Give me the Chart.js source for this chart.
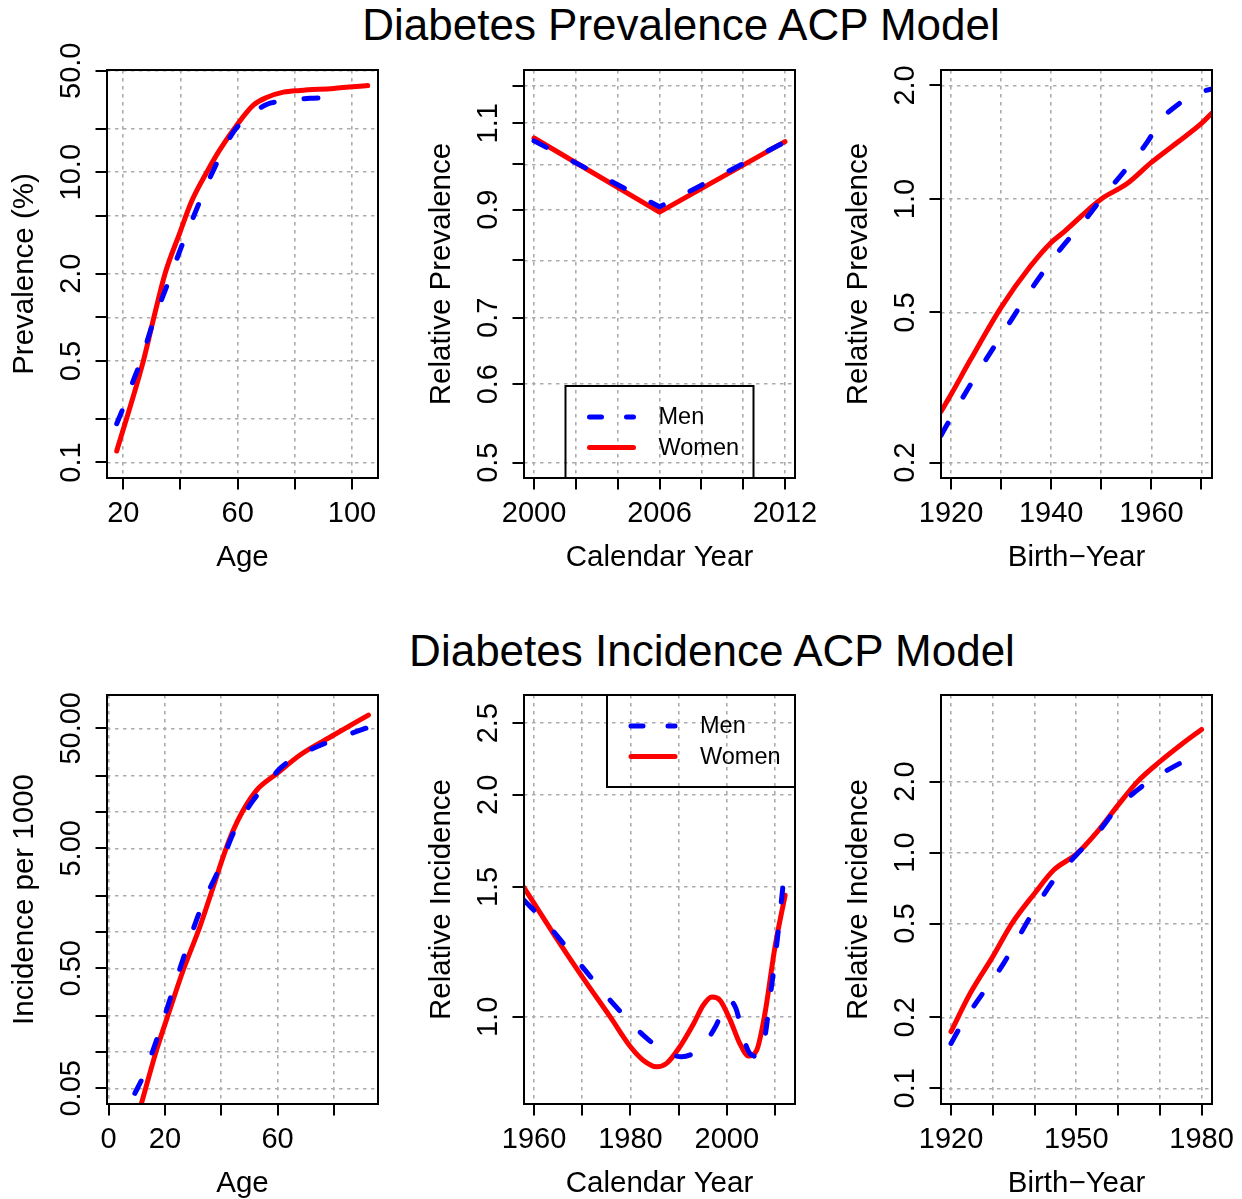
<!DOCTYPE html>
<html>
<head>
<meta charset="utf-8">
<script src="https://cdn.jsdelivr.net/npm/chart.js@4.4.1/dist/chart.umd.min.js"></script>
<style>
  body { margin: 0; background: #fff; }
  #page { position: relative; width: 1242px; height: 1199px; overflow: hidden; background: #fff; }
  canvas { position: absolute; }
  .main-title {
    position: absolute;
    font: 44px "Liberation Sans", Arial, sans-serif;
    line-height: 44px;
    white-space: nowrap;
    transform: translateX(-50%);
    color: #000;
  }
</style>
</head>
<body>
<div id="page">
  <div class="main-title" style="left:681px; top:3px">Diabetes Prevalence ACP Model</div>
  <div class="main-title" style="left:712px; top:629px">Diabetes Incidence ACP Model</div>
  <canvas id="prevAge" width="414" height="600" style="left:0px; top:0px"></canvas>
  <canvas id="prevYear" width="414" height="600" style="left:414px; top:0px"></canvas>
  <canvas id="prevCohort" width="414" height="600" style="left:828px; top:0px"></canvas>
  <canvas id="incAge" width="414" height="599" style="left:0px; top:600px"></canvas>
  <canvas id="incYear" width="414" height="599" style="left:414px; top:600px"></canvas>
  <canvas id="incCohort" width="414" height="599" style="left:828px; top:600px"></canvas>
</div>
<script>
const FONT = '"Liberation Sans", Arial, Helvetica, sans-serif';
const MEN_COLOR = '#0000ff';
const WOMEN_COLOR = '#ff0000';
const GRID_COLOR = '#ababab';

// ---- prevalence: age effect ----
const prevAgeMenX = [17.7, 20.2, 23.5, 25.8, 30.5, 35.7, 40.4, 45.7, 51.5, 58.5, 62.6, 70.1, 76.6, 85.3, 92.3];
const prevAgeMenY = [0.185, 0.244, 0.367, 0.48, 0.93, 1.74, 3.09, 5.6, 10.3, 18.9, 23, 29.3, 31, 32.3, 32.7];
const prevAgeWomenX = [17.7, 27, 30.7, 34.6, 39.8, 43.9, 49.2, 53.8, 60, 65.5, 70.1, 76, 81.8, 93.5, 105.5];
const prevAgeWomenY = [0.12, 0.5, 1.0, 2.0, 3.84, 6.3, 10, 14.3, 21.5, 29, 32.7, 35.6, 36.6, 37.8, 39.5];
const prevAgeXTicks = [20, 40, 60, 80, 100];
const prevAgeXLabels = ['20', '60', '100'];
const prevAgeYTicks = [0.1, 0.2, 0.5, 1, 2, 5, 10, 20, 50];
const prevAgeYLabels = ['0.1', '0.5', '2.0', '10.0', '50.0'];

// ---- prevalence: period effect ----
const prevYearX = [2000, 2006, 2012];
const prevYearMen = [1.056, 0.906, 1.053];
const prevYearWomen = [1.063, 0.895, 1.054];
const prevYearXTicks = [2000, 2002, 2004, 2006, 2008, 2010, 2012];
const prevYearXLabels = ['2000', '2006', '2012'];
const prevYearYTicks = [0.5, 0.6, 0.7, 0.8, 0.9, 1.0, 1.1, 1.2];
const prevYearYLabels = ['0.5', '0.6', '0.7', '0.9', '1.1'];

// ---- prevalence: cohort effect ----
const prevCohortMenX = [1918, 1920.9, 1925.9, 1930.5, 1936.5, 1941.8, 1946.5, 1950, 1953.8, 1957.1, 1959.1, 1962.1, 1964.8, 1969.1, 1972.1];
const prevCohortMenY = [0.236, 0.276, 0.356, 0.444, 0.589, 0.735, 0.871, 1.0, 1.15, 1.30, 1.41, 1.63, 1.76, 1.905, 1.96];
const prevCohortWomenX = [1918, 1920, 1923.9, 1930, 1935.8, 1940, 1942.5, 1950, 1955.1, 1960, 1965.1, 1970, 1972.1];
const prevCohortWomenY = [0.273, 0.303, 0.375, 0.516, 0.662, 0.767, 0.817, 1.0, 1.097, 1.25, 1.41, 1.586, 1.69];
const prevCohortXTicks = [1920, 1930, 1940, 1950, 1960, 1970];
const prevCohortXLabels = ['1920', '1940', '1960'];
const prevCohortYTicks = [0.2, 0.5, 1, 2];
const prevCohortYLabels = ['0.2', '0.5', '1.0', '2.0'];

// ---- incidence: age effect ----
const incAgeMenX = [9.3, 12.2, 17, 22.3, 27.1, 33, 39.5, 44.3, 51.4, 56.1, 60.9, 68, 79.9, 92.3];
const incAgeMenY = [0.0454, 0.0625, 0.126, 0.30, 0.667, 1.63, 3.5, 6.7, 12.6, 16.9, 23.2, 30, 40, 51];
const incAgeWomenX = [11, 17, 21.7, 26.5, 32.4, 37.2, 40.7, 44.3, 47.8, 52.6, 59.9, 68, 80, 92.3];
const incAgeWomenY = [0.033, 0.104, 0.225, 0.484, 1.11, 2.4, 4.27, 7.1, 10.4, 15.3, 21.1, 30, 44, 64.5];
const incAgeXTicks = [0, 20, 40, 60, 80];
const incAgeXLabels = ['0', '20', '60'];
const incAgeYTicks = [0.05, 0.1, 0.2, 0.5, 1, 2, 5, 10, 20, 50];
const incAgeYLabels = ['0.05', '0.50', '5.00', '50.00'];

// ---- incidence: period effect ----
const incYearMenX = [1957.9, 1962.6, 1968.9, 1975.8, 1982.7, 1986.8, 1990.6, 1995.1, 1997.6, 2000.5, 2001.9, 2003.4, 2004.8, 2006.7, 2007.8, 2009, 2010.3, 2012.1];
const incYearMenY = [1.439, 1.338, 1.193, 1.053, 0.944, 0.901, 0.883, 0.915, 0.969, 1.053, 1.026, 0.94, 0.892, 0.883, 0.93, 1.064, 1.244, 1.605];
const incYearWomenX = [1957.9, 1964, 1970, 1975.8, 1980, 1982.7, 1985.4, 1987.5, 1990, 1993.1, 1995.1, 1996.9, 1998.6, 2000.7, 2002.7, 2004.5, 2006.2, 2007.9, 2010, 2012.1];
const incYearWomenY = [1.497, 1.297, 1.133, 1.0, 0.911, 0.873, 0.856, 0.865, 0.906, 0.979, 1.037, 1.064, 1.053, 0.99, 0.92, 0.885, 0.901, 1.01, 1.244, 1.462];
const incYearXTicks = [1960, 1970, 1980, 1990, 2000, 2010];
const incYearXLabels = ['1960', '1980', '2000'];
const incYearYTicks = [1.0, 1.5, 2.0, 2.5];
const incYearYLabels = ['1.0', '1.5', '2.0', '2.5'];

// ---- incidence: cohort effect ----
const incCohortMenX = [1920, 1922.2, 1926.2, 1932.6, 1939, 1944.6, 1950, 1955, 1960, 1964.6, 1967.8, 1972.6, 1977];
const incCohortMenY = [0.155, 0.182, 0.233, 0.339, 0.535, 0.764, 0.976, 1.205, 1.563, 1.84, 2.03, 2.275, 2.506];
const incCohortWomenX = [1920, 1924.6, 1930, 1934.6, 1940, 1944.6, 1950, 1955, 1960, 1964.6, 1970, 1975, 1980];
const incCohortWomenY = [0.174, 0.253, 0.362, 0.501, 0.671, 0.843, 0.985, 1.225, 1.589, 1.995, 2.43, 2.86, 3.33];
const incCohortXTicks = [1920, 1930, 1940, 1950, 1960, 1970, 1980];
const incCohortXLabels = ['1920', '1950', '1980'];
const incCohortYTicks = [0.1, 0.2, 0.5, 1, 2];
const incCohortYLabels = ['0.1', '0.2', '0.5', '1.0', '2.0'];

// R 风格坐标轴、外框和图例
function rAxesPlugin(p) {
  return {
    id: 'rAxes',
    afterDraw(chart) {
      const { ctx, chartArea: a, scales: { x, y } } = chart;
      ctx.save();
      ctx.strokeStyle = '#000';
      ctx.fillStyle = '#000';
      ctx.lineWidth = 2;
      ctx.setLineDash([]);
      ctx.strokeRect(a.left, a.top, a.right - a.left, a.bottom - a.top);

      // x ticks
      ctx.beginPath();
      p.xTicks.forEach(v => {
        const px = Math.round(x.getPixelForValue(v));
        ctx.moveTo(px, a.bottom);
        ctx.lineTo(px, a.bottom + 11.5);
      });
      // y ticks
      p.yTicks.forEach(v => {
        const py = Math.round(y.getPixelForValue(v));
        ctx.moveTo(a.left, py);
        ctx.lineTo(a.left - 11.5, py);
      });
      ctx.stroke();

      ctx.font = '29px ' + FONT;
      ctx.textAlign = 'center';
      ctx.textBaseline = 'alphabetic';
      p.xLabels.forEach(t => {
        ctx.fillText(t, x.getPixelForValue(parseFloat(t)), a.bottom + 43.5);
      });
      ctx.font = '29.5px ' + FONT;
      ctx.fillText(p.xTitle, (a.left + a.right) / 2, a.bottom + 88);

      ctx.font = '29px ' + FONT;
      p.yLabels.forEach(t => {
        ctx.save();
        ctx.translate(a.left - 27, y.getPixelForValue(parseFloat(t)));
        ctx.rotate(-Math.PI / 2);
        ctx.fillText(t, 0, 0);
        ctx.restore();
      });
      ctx.save();
      ctx.font = '29.5px ' + FONT;
      ctx.translate(a.left - 74, (a.top + a.bottom) / 2);
      ctx.rotate(-Math.PI / 2);
      ctx.fillText(p.yTitle, 0, 0);
      ctx.restore();

      if (p.legend) {
        const w = 188, h = 92;
        const lx = p.legend === 'bottom' ? (a.left + a.right) / 2 - w / 2 : a.right - w;
        const ly = p.legend === 'bottom' ? a.bottom - h : a.top;
        ctx.lineWidth = 2;
        ctx.strokeRect(lx, ly, w, h);
        const rows = [
          { label: 'Men', color: MEN_COLOR, dash: [12, 25], dy: 31 },
          { label: 'Women', color: WOMEN_COLOR, dash: [], dy: 61.5 }
        ];
        ctx.font = '23.5px ' + FONT;
        ctx.textAlign = 'left';
        ctx.textBaseline = 'middle';
        rows.forEach(r => {
          ctx.beginPath();
          ctx.strokeStyle = r.color;
          ctx.lineWidth = 5;
          ctx.lineCap = 'round';
          ctx.setLineDash(r.dash);
          ctx.moveTo(lx + 24, ly + r.dy);
          ctx.lineTo(lx + 68, ly + r.dy);
          ctx.stroke();
          ctx.setLineDash([]);
          ctx.fillStyle = '#000';
          ctx.fillText(r.label, lx + 93, ly + r.dy + 1);
        });
      }
      ctx.restore();
    }
  };
}

function makeSeries(label, xs, ys, color, dash, smooth) {
  return {
    label,
    data: xs.map((v, i) => ({ x: v, y: ys[i] })),
    borderColor: color,
    borderWidth: 5,
    borderDash: dash,
    borderCapStyle: 'round',
    borderJoinStyle: 'round',
    pointRadius: 0,
    fill: false,
    tension: 0,
    cubicInterpolationMode: smooth ? 'monotone' : 'default',
    clip: 0
  };
}

function makePanel(canvasId, p) {
  const gridScale = (type, min, max, ticks, horizontal) => ({
    type,
    min,
    max,
    bounds: 'data',
    afterBuildTicks: s => { s.ticks = ticks.map(v => ({ value: v })); },
    afterFit: s => { if (horizontal) { s.height = 0; } else { s.width = 0; } },
    ticks: { display: false },
    grid: { color: GRID_COLOR, lineWidth: 1.6, drawTicks: false },
    border: { display: false, dash: [3.5, 4.5] }
  });

  return new Chart(document.getElementById(canvasId), {
    type: 'line',
    data: {
      datasets: [
        makeSeries('Men', p.men[0], p.men[1], MEN_COLOR, [14, 30], p.smooth),
        makeSeries('Women', p.women[0], p.women[1], WOMEN_COLOR, [], p.smooth)
      ]
    },
    options: {
      responsive: false,
      animation: false,
      layout: { padding: p.pad },
      plugins: { legend: { display: false }, tooltip: { enabled: false } },
      scales: {
        x: gridScale('linear', p.xRange[0], p.xRange[1], p.xTicks, true),
        y: gridScale('logarithmic', p.yRange[0], p.yRange[1], p.yTicks, false)
      }
    },
    plugins: [rAxesPlugin(p)]
  });
}

makePanel('prevAge', {
  men: [prevAgeMenX, prevAgeMenY], women: [prevAgeWomenX, prevAgeWomenY], smooth: true,
  xRange: [14.3, 109.1], yRange: [0.0782, 50.6],
  xTicks: prevAgeXTicks, xLabels: prevAgeXLabels, yTicks: prevAgeYTicks, yLabels: prevAgeYLabels,
  xTitle: 'Age', yTitle: 'Prevalence (%)',
  pad: { left: 107, top: 70, right: 36, bottom: 122 }
});

makePanel('prevYear', {
  men: [prevYearX, prevYearMen], women: [prevYearX, prevYearWomen], smooth: false,
  xRange: [1999.52, 2012.48], yRange: [0.4825, 1.245],
  xTicks: prevYearXTicks, xLabels: prevYearXLabels, yTicks: prevYearYTicks, yLabels: prevYearYLabels,
  xTitle: 'Calendar Year', yTitle: 'Relative Prevalence', legend: 'bottom',
  pad: { left: 110, top: 70, right: 33, bottom: 122 }
});

makePanel('prevCohort', {
  men: [prevCohortMenX, prevCohortMenY], women: [prevCohortWomenX, prevCohortWomenY], smooth: true,
  xRange: [1918.0, 1972.1], yRange: [0.182, 2.198],
  xTicks: prevCohortXTicks, xLabels: prevCohortXLabels, yTicks: prevCohortYTicks, yLabels: prevCohortYLabels,
  xTitle: 'Birth\u2212Year', yTitle: 'Relative Prevalence',
  pad: { left: 113, top: 70, right: 30, bottom: 122 }
});

makePanel('incAge', {
  men: [incAgeMenX, incAgeMenY], women: [incAgeWomenX, incAgeWomenY], smooth: true,
  xRange: [-0.6, 95.7], yRange: [0.037, 94.8],
  xTicks: incAgeXTicks, xLabels: incAgeXLabels, yTicks: incAgeYTicks, yLabels: incAgeYLabels,
  xTitle: 'Age', yTitle: 'Incidence per 1000',
  pad: { left: 107, top: 95, right: 36, bottom: 95 }
});

makePanel('incYear', {
  men: [incYearMenX, incYearMenY], women: [incYearWomenX, incYearWomenY], smooth: true,
  xRange: [1957.9, 2014.15], yRange: [0.762, 2.73],
  xTicks: incYearXTicks, xLabels: incYearXLabels, yTicks: incYearYTicks, yLabels: incYearYLabels,
  xTitle: 'Calendar Year', yTitle: 'Relative Incidence', legend: 'topright',
  pad: { left: 110, top: 95, right: 33, bottom: 95 }
});

makePanel('incCohort', {
  men: [incCohortMenX, incCohortMenY], women: [incCohortWomenX, incCohortWomenY], smooth: true,
  xRange: [1917.6, 1982.5], yRange: [0.0858, 4.66],
  xTicks: incCohortXTicks, xLabels: incCohortXLabels, yTicks: incCohortYTicks, yLabels: incCohortYLabels,
  xTitle: 'Birth\u2212Year', yTitle: 'Relative Incidence',
  pad: { left: 113, top: 95, right: 30, bottom: 95 }
});
</script>
</body>
</html>
